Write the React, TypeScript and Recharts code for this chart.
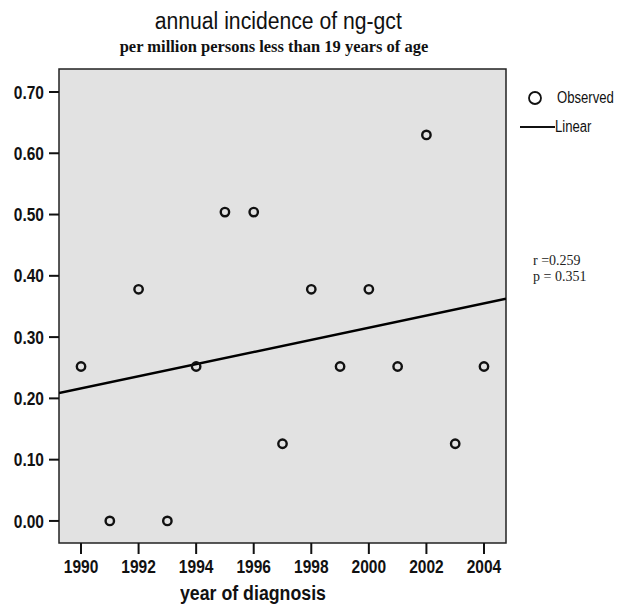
import React from "react";
import {
  CartesianGrid,
  ReferenceArea,
  Scatter,
  ScatterChart,
  XAxis,
  YAxis,
} from "recharts";

const years = [
  1990, 1991, 1992, 1993, 1994, 1995, 1996, 1997, 1998, 1999, 2000, 2001, 2002,
  2003, 2004,
];
const observed = [
  0.252, 0, 0.378, 0, 0.252, 0.504, 0.504, 0.126, 0.378, 0.252, 0.378, 0.252,
  0.63, 0.126, 0.252,
];
const xTicks = [1990, 1992, 1994, 1996, 1998, 2000, 2002, 2004];
const yTicks = [0, 0.1, 0.2, 0.3, 0.4, 0.5, 0.6, 0.7];

const X_DOMAIN: [number, number] = [1989.235, 2004.765];
const Y_DOMAIN: [number, number] = [-0.036, 0.7375];

const SANS = "'Liberation Sans', Arial, sans-serif";
const SERIF = "'Liberation Serif', 'Times New Roman', serif";

// least squares fit over the observed points
function linearFit(xs: number[], ys: number[]) {
  const n = xs.length;
  const mx = xs.reduce((a, b) => a + b, 0) / n;
  const my = ys.reduce((a, b) => a + b, 0) / n;
  let sxy = 0;
  let sxx = 0;
  xs.forEach((x, i) => {
    sxy += (x - mx) * (ys[i] - my);
    sxx += (x - mx) * (x - mx);
  });
  const slope = sxy / sxx;
  return (x: number) => my + slope * (x - mx);
}

const fit = linearFit(years, observed);
const points = years.map((year, i) => ({ year, value: observed[i] }));
const fitLine = X_DOMAIN.map((year) => ({ year, value: fit(year) }));

function Ring(props: any) {
  const { cx, cy } = props;
  if (cx == null || cy == null) return null;
  return <circle cx={cx} cy={cy} r={4.2} fill="none" stroke="#111" strokeWidth={2.4} />;
}

// the original uses a condensed face, so squeeze the text horizontally
function NarrowTick(props: any) {
  const { x, y, payload, textAnchor, formatter, dy } = props;
  const label = formatter ? formatter(payload.value) : String(payload.value);
  return (
    <text
      transform={`translate(${x},${y}) scale(0.84,1)`}
      textAnchor={textAnchor}
      dy={dy}
      fill="#111"
      fontSize={18.5}
      fontWeight={700}
      fontFamily={SANS}
    >
      {label}
    </text>
  );
}

const narrow = (scale: number): React.CSSProperties => ({
  transform: `scaleX(${scale})`,
  transformOrigin: "left center",
  whiteSpace: "nowrap",
});

export default function App() {
  return (
    <div style={{ position: "absolute", left: 0, top: 0, width: 620, height: 606, background: "#fff" }}>
      <ScatterChart
        width={620}
        height={606}
        margin={{ top: 69, right: 114, bottom: 0, left: 0 }}
      >
        <CartesianGrid horizontal={false} vertical={false} fill="#e2e2e2" />
        <ReferenceArea
          x1={X_DOMAIN[0]}
          x2={X_DOMAIN[1]}
          y1={Y_DOMAIN[0]}
          y2={Y_DOMAIN[1]}
          fill="none"
          stroke="#222"
          strokeWidth={1.5}
        />
        <XAxis
          type="number"
          dataKey="year"
          domain={X_DOMAIN}
          ticks={xTicks}
          allowDataOverflow
          height={63}
          axisLine={false}
          tickSize={11}
          tickMargin={6}
          tickLine={{ stroke: "#111", strokeWidth: 2 }}
          tick={<NarrowTick dy="0.71em" />}
        />
        <YAxis
          type="number"
          dataKey="value"
          domain={Y_DOMAIN}
          ticks={yTicks}
          allowDataOverflow
          width={59}
          axisLine={false}
          tickSize={10}
          tickMargin={5}
          tickLine={{ stroke: "#111", strokeWidth: 2 }}
          tick={<NarrowTick dy="0.355em" formatter={(v: number) => v.toFixed(2)} />}
        />
        <Scatter
          data={fitLine}
          line={{ stroke: "#000", strokeWidth: 2.5 }}
          shape={() => null}
          isAnimationActive={false}
        />
        <Scatter data={points} shape={<Ring />} isAnimationActive={false} />
      </ScatterChart>

      <div
        style={{
          position: "absolute",
          left: 0,
          top: 8,
          width: 556,
          textAlign: "center",
          fontFamily: SANS,
          fontSize: 23,
          color: "#111",
          lineHeight: "26px",
        }}
      >
        <span style={{ display: "inline-block", transform: "scaleX(0.92)" }}>
          annual incidence of ng-gct
        </span>
      </div>
      <div
        style={{
          position: "absolute",
          left: 0,
          top: 37,
          width: 548,
          textAlign: "center",
          fontFamily: SERIF,
          fontWeight: 700,
          fontSize: 16.5,
          color: "#111",
          lineHeight: "19px",
        }}
      >
        per million persons less than 19 years of age
      </div>
      <div
        style={{
          position: "absolute",
          left: 180,
          top: 583,
          fontFamily: SANS,
          fontWeight: 700,
          fontSize: 19.5,
          color: "#111",
          lineHeight: "20px",
          ...narrow(0.91),
        }}
      >
        year of diagnosis
      </div>

      <svg style={{ position: "absolute", left: 515, top: 85 }} width={45} height={55}>
        <circle cx={20} cy={13} r={6} fill="none" stroke="#111" strokeWidth={1.8} />
        <line x1={5} y1={42} x2={40} y2={42} stroke="#111" strokeWidth={2} />
      </svg>
      <div
        style={{
          position: "absolute",
          left: 557,
          top: 89,
          fontFamily: SANS,
          fontSize: 16,
          color: "#111",
          lineHeight: "18px",
          ...narrow(0.82),
        }}
      >
        Observed
      </div>
      <div
        style={{
          position: "absolute",
          left: 555,
          top: 118,
          fontFamily: SANS,
          fontSize: 16,
          color: "#111",
          lineHeight: "18px",
          ...narrow(0.82),
        }}
      >
        Linear
      </div>
      <div
        style={{
          position: "absolute",
          left: 533,
          top: 253,
          fontFamily: SERIF,
          fontSize: 14,
          color: "#222",
          lineHeight: "16px",
        }}
      >
        r =0.259
        <br />p = 0.351
      </div>
    </div>
  );
}
